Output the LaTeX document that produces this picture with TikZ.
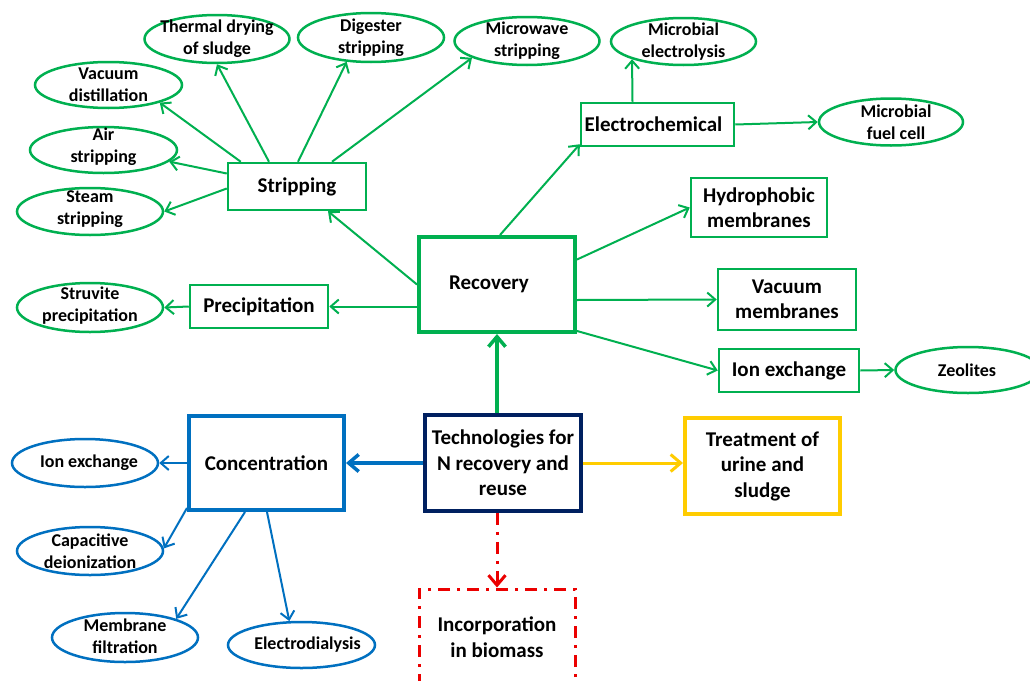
\documentclass[tikz,border=0pt]{standalone}
\usepackage{fontspec}
\setmainfont{Carlito}
\usetikzlibrary{shapes.geometric,arrows.meta}
\definecolor{cgreen}{RGB}{0,176,80}
\definecolor{cblue}{RGB}{0,112,192}
\definecolor{cnavy}{RGB}{0,32,96}
\definecolor{cyellow}{RGB}{255,204,0}
\definecolor{cred}{RGB}{235,0,0}
\begin{document}
\begin{tikzpicture}[x=1pt,y=-1pt,
  big/.style={font=\bfseries\fontsize{21}{25.5}\selectfont, align=center, inner sep=0pt},
  sm/.style={font=\bfseries\fontsize{18}{22}\selectfont, align=center, inner sep=0pt},
  gbox/.style={big, draw=cgreen, line width=2.5pt},
  gell/.style={ellipse, draw=cgreen, line width=2.5pt, inner sep=0pt},
  bell/.style={ellipse, draw=cblue, line width=2.5pt, inner sep=0pt},
  tip/.style={-{Straight Barb[length=8pt,width=14pt]}},
  bigtip/.style={-{Straight Barb[length=10pt,width=17pt]}},
  garr/.style={draw=cgreen, line width=2pt, tip},
  barr/.style={draw=cblue, line width=2pt, tip},
  redd/.style={dash pattern=on 12pt off 7pt on 3pt off 7pt}
]
\useasboundingbox (0,0) rectangle (1030,680);
\clip (0,0) rectangle (1030,680);
\fill[white] (0,0) rectangle (1030,680);

% boxes
\node[gbox, line width=4pt, minimum width=156pt, minimum height=95pt] (rec) at (497,284.5) {\hspace*{-16pt}\raisebox{3pt}{Recovery}};
\node[gbox, minimum width=138pt, minimum height=47pt] (st) at (297,186.5) {Stripping};
\node[gbox, minimum width=138pt, minimum height=43pt] (pr) at (259,306.5) {Precipitation};
\node[gbox, minimum width=153pt, minimum height=43pt] (ec) at (657.5,124.5) {\hspace*{-8pt}Electrochemical};
\node[gbox, minimum width=136pt, minimum height=59pt] (hy) at (759,207.5) {Hydrophobic\\membranes};
\node[gbox, minimum width=138pt, minimum height=61pt] (vm) at (787,299.5) {Vacuum\\membranes};
\node[gbox, minimum width=140pt, minimum height=43pt] (ix) at (789,370.5) {Ion exchange};
\node[big, draw=cnavy, line width=3.5pt, minimum width=156pt, minimum height=96pt] (tech) at (503,463) {Technologies for\\N recovery and\\reuse};
\node[big, draw=cyellow, line width=4pt, minimum width=155pt, minimum height=96pt] (tr) at (762.5,466) {Treatment of\\urine and\\sludge};
\node[big, draw=cblue, line width=4pt, minimum width=155pt, minimum height=94pt] (cn) at (266.5,463) {Concentration};
\node[big, draw=cred, line width=3pt, redd, minimum width=156pt, minimum height=96pt] (ic) at (497,637) {Incorporation\\in biomass};

% green ellipses
\node[gell, minimum width=145pt, minimum height=48pt] (td) at (217,39) {};
\node[sm] at (td) {Thermal drying\\of sludge};
\node[gell, minimum width=146pt, minimum height=49pt] (dg) at (371,37.5) {};
\node[sm] at (dg) {Digester\\stripping};
\node[gell, minimum width=145pt, minimum height=48pt] (mw) at (527,41) {};
\node[sm] at (mw) {Microwave\\stripping};
\node[gell, minimum width=145pt, minimum height=47pt] (me) at (683.5,41.5) {};
\node[sm] at (me) {Microbial\\electrolysis};
\node[gell, minimum width=147pt, minimum height=46pt] (vd) at (108.5,85) {};
\node[sm] at (vd) {Vacuum\\distillation};
\node[gell, minimum width=147pt, minimum height=46pt] (ai) at (103.5,150) {};
\node[sm] at ([yshift=3pt]ai.center) {Air\\stripping};
\node[gell, minimum width=146pt, minimum height=47pt] (sm) at (90,211.5) {};
\node[sm] at ([yshift=2pt]sm.center) {Steam\\stripping};
\node[gell, minimum width=144pt, minimum height=47pt] (mfc) at (891,122) {};
\node[sm] at ([xshift=5pt]mfc.center) {Microbial\\fuel cell};
\node[gell, minimum width=146pt, minimum height=49pt] (sv) at (90,307.5) {};
\node[sm] at ([yshift=2pt]sv.center) {Struvite\\precipitation};
\node[gell, minimum width=145pt, minimum height=46pt] (ze) at (968,370) {};
\node[sm] at ([xshift=-1pt]ze.center) {Zeolites};

% blue ellipses
\node[bell, minimum width=146pt, minimum height=48pt] (bix) at (85,463) {};
\node[sm] at ([xshift=4pt]bix.center) {Ion exchange};
\node[bell, minimum width=146pt, minimum height=48pt] (cd) at (90,551) {};
\node[sm] at (cd) {Capacitive\\deionization};
\node[bell, minimum width=146pt, minimum height=49pt] (mb) at (125,637.5) {};
\node[sm] at ([yshift=1pt]mb.center) {Membrane\\filtration};
\node[bell, minimum width=147pt, minimum height=46pt] (ed) at (301.5,645) {};
\node[sm] at ([xshift=6pt]ed.center) {Electrodialysis};

% green connectors
\draw[garr] ([xshift=14pt]st.north west) -- (vd.-19);
\draw[garr] ([xshift=-28pt]st.north) -- (td.south);
\draw[garr] ([xshift=1pt]st.north) -- (dg.-135);
\draw[garr] ([xshift=35pt]st.north) -- (mw.-163);
\draw[garr] ([yshift=13pt]st.west) -- (ai.-10);
\draw[garr] ([yshift=-2pt]st.west) -- (sm.east);
\draw[garr] (rec.west) -- ([xshift=31pt]st.south);
\draw[garr] ([yshift=-22pt]rec.west) -- (pr.east);
\draw[garr] (pr.west) -- (sv.east);
\draw[garr] ([xshift=3pt]rec.north) -- ([yshift=3pt]ec.south west);
\draw[garr] ([xshift=-25pt]ec.north) -- (me.-161);
\draw[garr] (ec.east) -- (mfc.west);
\draw[garr] ([yshift=25pt]rec.east) -- (hy.west);
\draw[garr] ([yshift=-15.5pt]rec.east) -- (vm.west);
\draw[garr] ([yshift=3pt]rec.south east) -- (ix.west);
\draw[garr] (ix.east) -- (ze.west);

% main connectors
\draw[draw=cgreen, line width=3.5pt, bigtip] (tech.north -| rec.south) -- (rec.south);
\draw[draw=cblue, line width=3.5pt, bigtip] (tech.west) -- (cn.east);
\draw[draw=cyellow, line width=3pt, bigtip] (tech.east) -- (tech.east -| tr.west);
\draw[draw=cred, line width=3pt, redd, bigtip] (ic.north |- tech.south) -- (ic.north);

% blue connectors
\draw[barr] (cn.west) -- (bix.east);
\draw[barr] ([yshift=4pt]cn.south west) -- (cd.2);
\draw[barr] ([xshift=-21.5pt]cn.south) -- (mb.20);
\draw[barr] ([xshift=0.5pt]cn.south) -- (ed.117);
\end{tikzpicture}
\end{document}
